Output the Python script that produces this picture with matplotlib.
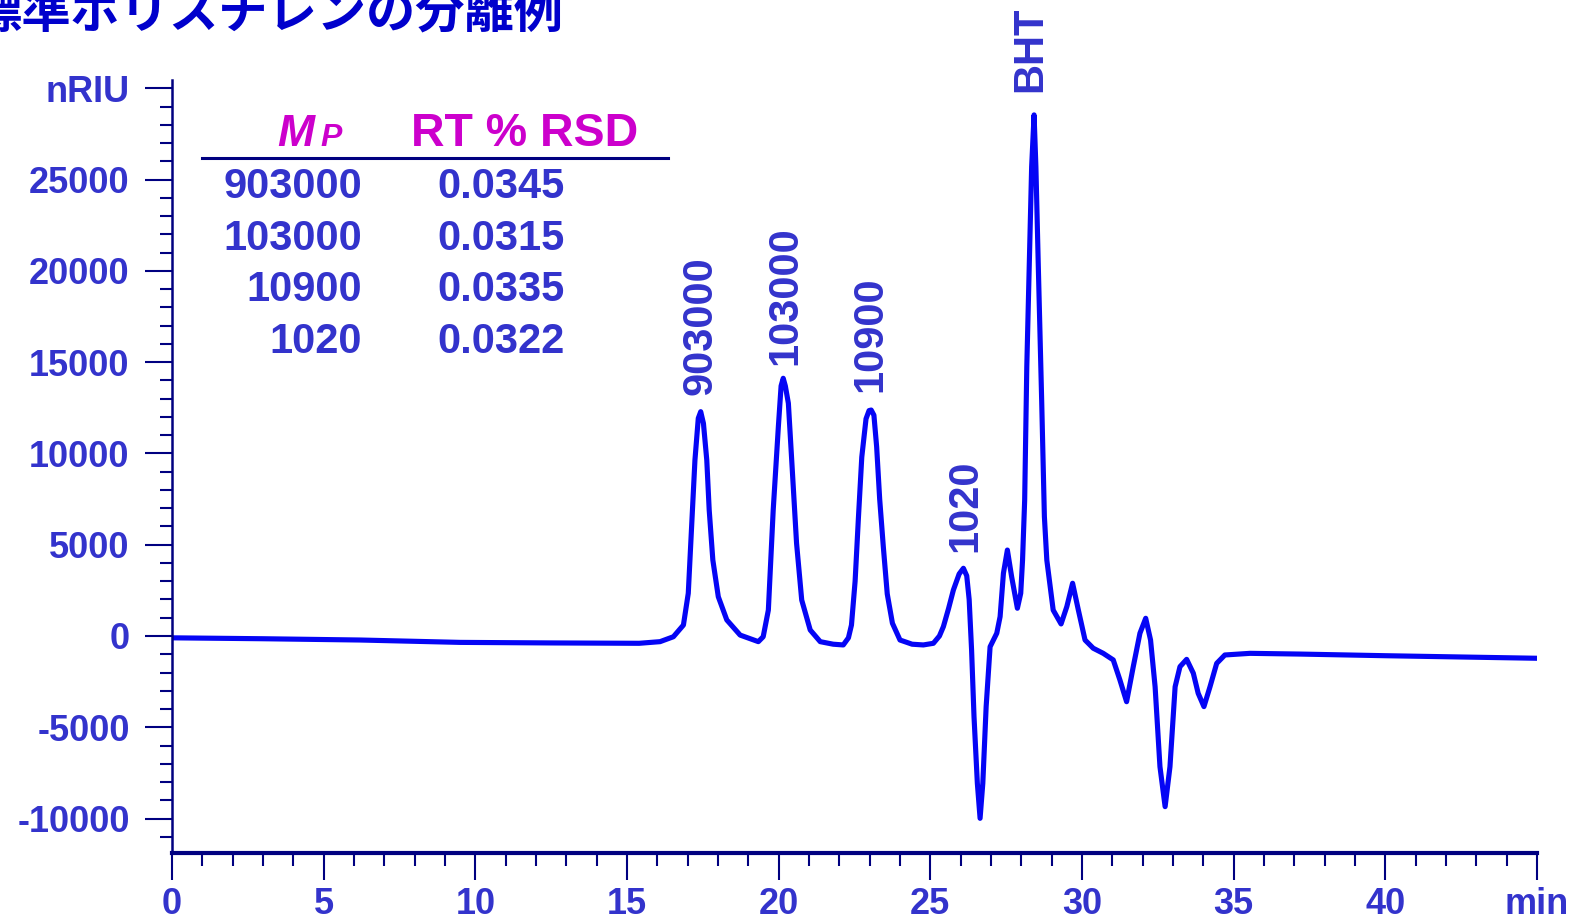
import matplotlib
matplotlib.use("Agg")
import matplotlib.pyplot as plt
from matplotlib.lines import Line2D
from matplotlib.ticker import FixedLocator, FixedFormatter, MultipleLocator

plt.rcParams['font.family'] = ['Liberation Sans', 'Noto Sans CJK JP', 'DejaVu Sans']

W, H = 1569, 922

# chromatogram (min, nRIU)
rt = [0.0, 3.0, 6.2, 9.5, 12.5, 15.4, 16.09, 16.53, 16.86, 17.02, 17.13, 17.24, 17.35,
      17.43, 17.52, 17.63, 17.71, 17.83, 18.01, 18.29, 18.73, 19.33,
      19.49, 19.66, 19.82, 19.99, 20.08, 20.15, 20.22, 20.32, 20.43, 20.59, 20.76, 21.04,
      21.37, 21.8, 22.13,
      22.3, 22.4, 22.52, 22.63, 22.74, 22.88, 22.98, 23.05, 23.14, 23.23, 23.33, 23.45,
      23.58, 23.75, 24.0, 24.4, 24.77,
      25.1, 25.3, 25.43, 25.6, 25.76, 25.95, 26.09, 26.2, 26.28, 26.36, 26.44, 26.55,
      26.64, 26.73, 26.84, 26.97, 27.19, 27.3, 27.41, 27.54, 27.68, 27.87, 27.98, 28.04,
      28.11, 28.18, 28.26, 28.34, 28.42, 28.48, 28.56, 28.67, 28.76, 28.84, 29.05, 29.31,
      29.5, 29.69, 29.88, 30.1, 30.37, 30.7, 31.03, 31.25, 31.47, 31.69, 31.91, 32.1,
      32.26, 32.41, 32.57, 32.74, 32.9, 33.07, 33.23, 33.45, 33.67, 33.83, 34.02, 34.22,
      34.44, 34.71, 35.54, 37.19, 40.0, 42.5, 45.0]
signal = [-100, -150, -220, -350, -380, -400, -310, -40, 600, 2340, 5990, 9640, 11930,
          12290, 11650, 9640, 6900, 4160, 2150, 880, 50, -310,
          -40, 1420, 6900, 11470, 13700, 14120, 13700, 12750, 9640, 5080, 1970, 330,
          -310, -450, -490,
          -100, 600, 3000, 6500, 9800, 11900, 12350, 12380, 12100, 10370, 7500, 4890,
          2300, 700, -220, -450, -490,
          -400, 0, 510, 1500, 2520, 3400, 3710, 3300, 2000, -770, -4420, -8070,
          -9990, -8070, -3870, -590, 150, 1060, 3440, 4710, 3250, 1520, 2340, 4160,
          7450, 14750, 20230, 25710, 28550, 25710, 20230, 12930, 6540, 4160, 1420, 660,
          1610, 2890, 1420, -220, -670, -950, -1310, -2410, -3600, -1680, 150, 970,
          -220, -2780, -7160, -9350, -7160, -2780, -1680, -1280, -2040, -3140, -3870, -2780,
          -1500, -1040, -950, -990, -1080, -1150, -1220]

# peak labels
peak_names = ['903000', '103000', '10900', '1020', 'BHT']
peak_rt = [17.41, 20.21, 23.01, 26.14, 28.29]
peak_label_y = [13200, 14850, 13370, 4600, 29800]

# table
mp_values = ['903000', '103000', '10900', '1020']
rsd_values = ['0.0345', '0.0315', '0.0335', '0.0322']

# axes ticks
x_major = [0, 5, 10, 15, 20, 25, 30, 35, 40, 45]
x_labels = ['0', '5', '10', '15', '20', '25', '30', '35', '40', 'min']
y_major = [-10000, -5000, 0, 5000, 10000, 15000, 20000, 25000, 30000]
y_labels = ['-10000', '-5000', '0', '5000', '10000', '15000', '20000', '25000', 'nRIU']

navy = '#000080'
txt_blue = '#3333CC'
line_blue = '#0505F5'
magenta = '#CC00CC'

fig = plt.figure(figsize=(W / 100, H / 100), dpi=100)
ax = fig.add_axes([172 / W, (H - 852.7) / H, (1537 - 172) / W, (852.7 - 80) / H])

ax.plot(rt, signal, color=line_blue, lw=3.7, solid_joinstyle='round', solid_capstyle='round')
ax.set_xlim(0, 45)
ax.set_ylim(-11873, 30463)

for s in ['top', 'right']:
    ax.spines[s].set_visible(False)
ax.spines['left'].set_color(navy)
ax.spines['left'].set_linewidth(1.8)
ax.spines['bottom'].set_color(navy)
ax.spines['bottom'].set_linewidth(3)

ax.xaxis.set_major_locator(FixedLocator(x_major))
ax.xaxis.set_major_formatter(FixedFormatter(x_labels))
ax.xaxis.set_minor_locator(MultipleLocator(1))
ax.yaxis.set_major_locator(FixedLocator(y_major))
ax.yaxis.set_major_formatter(FixedFormatter(y_labels))
ax.yaxis.set_minor_locator(MultipleLocator(1000))

ax.tick_params(axis='both', which='major', direction='out', length=19.5, width=1.5,
               color=navy, labelcolor=txt_blue, labelsize=26)
ax.tick_params(axis='both', which='minor', direction='out', length=9, width=1.5, color=navy)
ax.tick_params(axis='x', which='major', pad=5)
ax.tick_params(axis='y', which='major', pad=11)
for lab in ax.get_xticklabels() + ax.get_yticklabels():
    lab.set_fontweight('bold')

for name, x, y in zip(peak_names, peak_rt, peak_label_y):
    ax.text(x, y, name, rotation=90, ha='center', va='bottom', fontsize=30,
            fontweight='bold', color=txt_blue, clip_on=False)

# title (cut off at the top-left in the original)
fig.text(-27 / W, 1 - 27 / H, '標準ポリスチレンの分離例', family=['Noto Sans CJK JP', 'DejaVu Sans'],
         fontsize=35.5, fontweight='bold', color='#0000CC', ha='left', va='baseline')

# table header
fig.text(277 / W, 1 - 146 / H, 'M', fontsize=32, fontweight='bold', style='italic',
         color=magenta, ha='left', va='baseline')
fig.text(320 / W, 1 - 146 / H, 'P', fontsize=23, fontweight='bold', style='italic',
         color=magenta, ha='left', va='baseline')
fig.text(411 / W, 1 - 146 / H, 'RT % RSD', fontsize=33.5, fontweight='bold',
         color=magenta, ha='left', va='baseline')
fig.add_artist(Line2D([202 / W, 668 / W], [1 - 158 / H, 1 - 158 / H], color=navy, lw=2.2,
                      transform=fig.transFigure))

for i, (mp, rsd) in enumerate(zip(mp_values, rsd_values)):
    yb = 1 - (198 + i * 51.7) / H
    fig.text(362 / W, yb, mp, fontsize=30, fontweight='bold', color=txt_blue,
             ha='right', va='baseline')
    fig.text(437 / W, yb, rsd, fontsize=30, fontweight='bold', color=txt_blue,
             ha='left', va='baseline')

fig.savefig('out.png', dpi=100)
